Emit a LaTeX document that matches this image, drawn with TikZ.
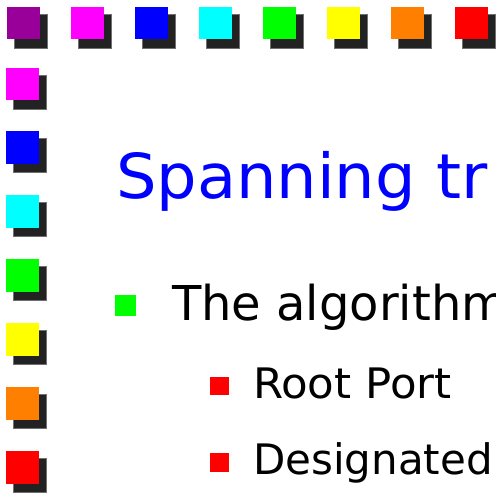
\documentclass[tikz,border=0pt]{standalone}
\usepackage{fontspec}
\setmainfont{DejaVu Sans}
\definecolor{cpurple}{HTML}{990099}
\definecolor{cmagenta}{HTML}{FF00FF}
\definecolor{cblue}{HTML}{0000FF}
\definecolor{ccyan}{HTML}{00FFFF}
\definecolor{cgreen}{HTML}{00FF00}
\definecolor{cyellow}{HTML}{FFFF00}
\definecolor{corange}{HTML}{FF8000}
\definecolor{cred}{HTML}{FF0000}
\definecolor{cshadow}{HTML}{222222}
\definecolor{cshadowedge}{HTML}{707070}
\tikzset{
  shadowbox/.style={fill=cshadow, draw=cshadowedge, line width=0.8pt},
  txt/.style={anchor=base west, inner sep=0pt, outer sep=0pt},
}
\newcommand{\decosq}[3]{%
  \fill[shadowbox] (#1+7.5,#2+7.5) rectangle ++(32.5,33.5);
  \fill[#3] (#1,#2) rectangle ++(32.5,32.5);
}
\begin{document}
\begin{tikzpicture}[x=1pt,y=-1pt]
\useasboundingbox (0,0) rectangle (496,495);
\clip (0,0) rectangle (496,495);
\fill[white] (0,0) rectangle (496,495);
% top row
\decosq{7}{7}{cpurple}
\decosq{71}{7}{cmagenta}
\decosq{135}{7}{cblue}
\decosq{199}{7}{ccyan}
\decosq{263}{7}{cgreen}
\decosq{327}{7}{cyellow}
\decosq{391}{7}{corange}
\decosq{455}{7}{cred}
% left column
\decosq{6}{68}{cmagenta}
\decosq{6}{131}{cblue}
\decosq{6}{195}{ccyan}
\decosq{6}{259}{cgreen}
\decosq{6}{323}{cyellow}
\decosq{6}{387}{corange}
\decosq{6}{451}{cred}
% title
\node[txt, text=cblue, font=\fontsize{62}{72}\selectfont, xscale=1.03] (title) at (116,198) {Spanning tr};
% bullets
\fill[cgreen] (115,295) rectangle (136,316);
\node[txt, font=\fontsize{48}{58}\selectfont] (b1) at (172,320) {The algorithm};
\fill[cred] (210,377) rectangle (229,395);
\node[txt, font=\fontsize{42}{50}\selectfont, xscale=1.035] (b2) at (253,398) {Root Port};
\fill[cred] (210,453) rectangle (229,472);
\node[txt, font=\fontsize{42}{50}\selectfont] (b3) at (253,474) {Designated};
\end{tikzpicture}
\end{document}
